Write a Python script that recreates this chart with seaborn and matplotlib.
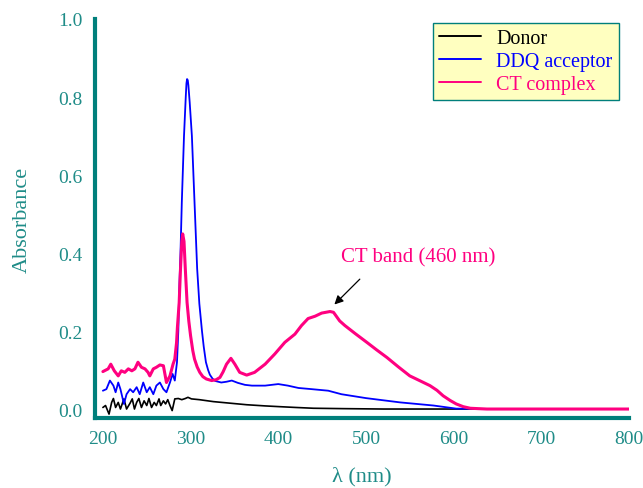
import matplotlib
matplotlib.use("Agg")
import matplotlib.pyplot as plt
import seaborn as sns
import pandas as pd

# UV-Vis absorption spectra (wavelength in nm, absorbance)
donor_wl = [200, 203, 207, 210, 212, 214.5, 217.5, 220, 222, 224, 227, 231, 233.5, 236, 238.5,
            241, 244, 247, 250, 252.5, 255.5, 258.5, 261, 264, 266, 269, 271.5, 274, 276.5,
            279, 282, 286, 290, 294, 297, 301, 310, 326, 345, 364, 385, 402, 420, 440, 474,
            520, 600, 700, 800]
donor_abs = [0.004, 0.009, -0.013, 0.017, 0.027, 0.004, 0.017, 0.000, 0.013, 0.026, 0.000,
             0.015, 0.026, 0.000, 0.017, 0.027, 0.004, 0.021, 0.009, 0.027, 0.004, 0.017,
             0.009, 0.026, 0.009, 0.021, 0.013, 0.024, 0.009, -0.004, 0.026, 0.027, 0.024,
             0.027, 0.030, 0.026, 0.024, 0.019, 0.015, 0.011, 0.008, 0.006, 0.004, 0.002,
             0.001, 0.000, 0.000, 0.000, 0.000]

ddq_wl = [200, 204, 208, 212, 214.5, 217.5, 220, 224, 227, 231, 234.5, 238.5, 242, 246, 250,
          253.5, 257.5, 261, 265, 269, 272.5, 276.5, 279.5, 282, 284.5, 286, 287, 288.5,
          290, 292.5, 294.5, 295.3, 296, 296.8, 297.5, 299, 301.5, 304.5, 307.5, 310, 313,
          315, 317.5, 320, 322, 325, 328, 335, 341, 347, 354, 362, 370, 385, 400, 411, 423,
          438, 457, 472, 500, 539, 577, 603, 650, 700, 800]
ddq_abs = [0.047, 0.051, 0.073, 0.060, 0.043, 0.068, 0.051, 0.013, 0.038, 0.051, 0.043,
           0.056, 0.038, 0.068, 0.043, 0.056, 0.038, 0.060, 0.068, 0.051, 0.043, 0.068,
           0.090, 0.073, 0.120, 0.200, 0.300, 0.400, 0.530, 0.700, 0.800, 0.835, 0.846,
           0.843, 0.830, 0.786, 0.700, 0.530, 0.360, 0.270, 0.200, 0.160, 0.120, 0.100,
           0.088, 0.078, 0.072, 0.068, 0.070, 0.073, 0.067, 0.062, 0.060, 0.060, 0.064,
           0.060, 0.054, 0.051, 0.047, 0.038, 0.028, 0.017, 0.009, 0.001, 0.000, 0.000,
           0.000]

ct_wl = [200, 206, 209, 213, 217.5, 221, 225, 229, 233, 236.5, 240, 244, 248, 251.5, 253.5,
         257.5, 261, 265, 269, 272.5, 276.5, 280, 282, 284, 285, 287, 288.5, 290, 291,
         292.5, 294, 296, 298, 300, 302.5, 304.5, 307.5, 310.5, 314, 318, 324, 329, 333.5,
         337, 341, 346, 350.5, 356, 364, 373, 385, 396, 407.5, 419, 426.5, 434, 442, 449.5,
         459, 463, 470, 476, 488, 501, 512, 524, 537, 550, 562, 573, 581, 588, 596, 603,
         611, 619, 628, 638, 700, 800]
ct_abs = [0.096, 0.103, 0.115, 0.098, 0.085, 0.098, 0.094, 0.103, 0.098, 0.103, 0.120,
          0.107, 0.103, 0.094, 0.085, 0.103, 0.107, 0.113, 0.111, 0.068, 0.085, 0.115,
          0.128, 0.170, 0.210, 0.273, 0.359, 0.430, 0.449, 0.430, 0.359, 0.273, 0.225,
          0.188, 0.150, 0.128, 0.108, 0.094, 0.083, 0.077, 0.073, 0.075, 0.081, 0.095,
          0.115, 0.130, 0.115, 0.094, 0.087, 0.094, 0.115, 0.141, 0.171, 0.192, 0.214,
          0.232, 0.238, 0.246, 0.250, 0.248, 0.226, 0.214, 0.193, 0.171, 0.152, 0.132,
          0.108, 0.085, 0.072, 0.060, 0.048, 0.034, 0.022, 0.013, 0.006, 0.002, 0.001,
          0.000, 0.000, 0.000]

series_names = ["Donor", "DDQ acceptor", "CT complex"]
series_colors = ["#000000", "#0000FF", "#FF0080"]
series_widths = [1.2, 1.3, 2.2]

TEAL = "#007F7B"
TEXT_TEAL = "#1F8C88"

sns.set_style("white")
plt.rcParams["font.family"] = ["Liberation Serif", "DejaVu Serif"]

fig = plt.figure(figsize=(6.43, 4.89), dpi=100)
ax = fig.add_axes([95 / 643, 1 - 419 / 489, 534 / 643, 399 / 489])

frames = [
    pd.DataFrame({"wl": donor_wl, "A": donor_abs}),
    pd.DataFrame({"wl": ddq_wl, "A": ddq_abs}),
    pd.DataFrame({"wl": ct_wl, "A": ct_abs}),
]
for df, name, col, lw in zip(frames, series_names, series_colors, series_widths):
    sns.lineplot(data=df, x="wl", y="A", ax=ax, color=col, linewidth=lw,
                 label=name, estimator=None, sort=False)

ax.set_xlim(191, 800)
ax.set_ylim(-0.023, 1.0)
ax.set_xticks([200, 300, 400, 500, 600, 700, 800])
ax.set_yticks([0.0, 0.2, 0.4, 0.6, 0.8, 1.0])
ax.set_yticklabels(["0.0", "0.2", "0.4", "0.6", "0.8", "1.0"])

for side in ["top", "right"]:
    ax.spines[side].set_visible(False)
for side in ["left", "bottom"]:
    ax.spines[side].set_color(TEAL)
    ax.spines[side].set_linewidth(3.0)
ax.tick_params(axis="both", which="major", direction="out", length=5, width=3,
               color=TEAL, labelcolor=TEXT_TEAL, labelsize=14, pad=4)

ax.set_xlabel("λ (nm)", color=TEXT_TEAL, fontsize=16, labelpad=13)
ax.set_ylabel("Absorbance", color=TEXT_TEAL, fontsize=16, labelpad=19)

leg = ax.legend(loc="upper left", bbox_to_anchor=(0.633, 0.99), fontsize=14.5,
                frameon=True, fancybox=False, framealpha=1.0, handlelength=2.1,
                borderpad=0.3, labelspacing=0.2, handletextpad=0.75,
                borderaxespad=0)
leg.get_frame().set_facecolor("#FFFFC0")
leg.get_frame().set_edgecolor(TEAL)
leg.get_frame().set_linewidth(1.0)
for txt, col in zip(leg.get_texts(), series_colors):
    txt.set_color(col)
for line in leg.get_lines():
    line.set_linewidth(1.4)

# CT band label with pointer to the band maximum
ax.text(560, 0.39, "CT band (460 nm)", color="#FF0080", fontsize=15,
        ha="center", va="center")
ax.annotate("", xy=(464, 0.268), xytext=(493, 0.333),
            arrowprops=dict(arrowstyle="-|>", color="black", lw=0.9,
                            shrinkA=0, shrinkB=0, mutation_scale=13))

fig.savefig("out.png", dpi=100)
